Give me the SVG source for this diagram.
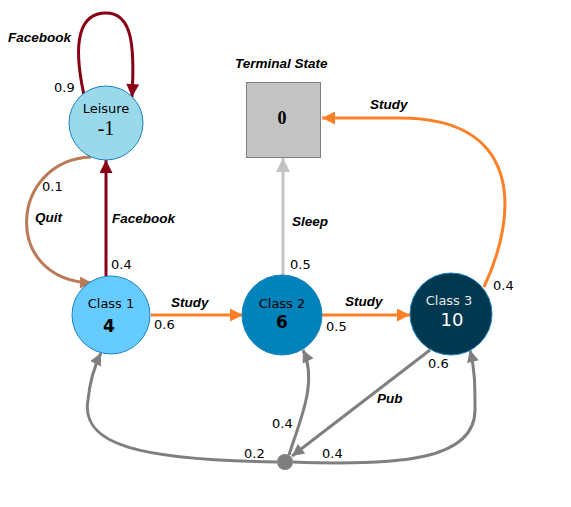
<svg xmlns="http://www.w3.org/2000/svg" width="571" height="507" viewBox="0 0 571 507">
<style>
.lbl{font-family:"Liberation Sans",Arial,sans-serif;font-size:13.5px;font-weight:bold;font-style:italic;fill:#000}
.p{font-family:"DejaVu Sans",Verdana,sans-serif;font-size:13px;fill:#000}
.nm{font-family:"DejaVu Sans",Verdana,sans-serif;font-size:13px;text-anchor:middle}
.val{font-family:"DejaVu Sans",Verdana,sans-serif;font-size:17px;font-weight:bold;text-anchor:middle}
.big{font-family:"DejaVu Sans",Verdana,sans-serif;font-size:18px;text-anchor:middle}
.ser{font-family:"Liberation Serif","Times New Roman",serif;text-anchor:middle}
.st{stroke:#1A81C1;stroke-width:1}
.e{fill:none;stroke-width:3}
</style>
<defs>
<marker id="aR" viewBox="0 0 12 12" refX="12" refY="6" markerWidth="14" markerHeight="13" markerUnits="userSpaceOnUse" orient="auto"><path d="M0,0 L12,6 L0,12 z" fill="#880015"/></marker>
<marker id="aO" viewBox="0 0 12 12" refX="12" refY="6" markerWidth="14" markerHeight="13" markerUnits="userSpaceOnUse" orient="auto"><path d="M0,0 L12,6 L0,12 z" fill="#FF7F27"/></marker>
<marker id="aB" viewBox="0 0 12 12" refX="12" refY="6" markerWidth="13" markerHeight="12" markerUnits="userSpaceOnUse" orient="auto"><path d="M0,0 L12,6 L0,12 z" fill="#B97A57"/></marker>
<marker id="aL" viewBox="0 0 12 12" refX="12" refY="6" markerWidth="14" markerHeight="15" markerUnits="userSpaceOnUse" orient="auto"><path d="M0,0 L12,6 L0,12 z" fill="#C3C3C3"/></marker>
<marker id="aG" viewBox="0 0 12 12" refX="12" refY="6" markerWidth="13" markerHeight="12" markerUnits="userSpaceOnUse" orient="auto"><path d="M0,0 L12,6 L0,12 z" fill="#7F7F7F"/></marker>
</defs>
<rect width="571" height="507" fill="#fff"/>
<g id="connectors">
<path class="e" stroke="#880015" d="M84 95 C72 40 80 13 106 13 C132 13 135 45 132 97" marker-end="url(#aR)"/>
<path class="e" stroke="#880015" d="M106 276 L106 160" marker-end="url(#aR)"/>
<path class="e" stroke="#B97A57" d="M91 157 C10 160 0 280 92 283" marker-end="url(#aB)"/>
<path class="e" stroke="#FF7F27" d="M151 315 L243 315" marker-end="url(#aO)"/>
<path class="e" stroke="#FF7F27" d="M322 315 L410 315" marker-end="url(#aO)"/>
<path class="e" stroke="#C3C3C3" d="M283 275 L283 158" marker-end="url(#aL)"/>
<path class="e" stroke="#FF7F27" d="M484 287 C520 210 520 118 400 118 L322 118" marker-end="url(#aO)"/>
<path class="e" stroke="#7F7F7F" d="M430 350 L292 456" marker-end="url(#aG)"/>
<path class="e" stroke="#7F7F7F" d="M277 462 C140 460 80 445 88 400 C90 380 95 365 101 353" marker-end="url(#aG)"/>
<path class="e" stroke="#7F7F7F" d="M289 455 C300 420 318 382 303 350" marker-end="url(#aG)"/>
<path class="e" stroke="#7F7F7F" d="M293 462 C400 466 475 460 475 410 C475 385 475 370 470 350" marker-end="url(#aG)"/>
<text class="lbl" x="8" y="42">Facebook</text>
<text class="p" x="54" y="92">0.9</text>
<text class="p" x="42" y="191">0.1</text>
<text class="lbl" x="35" y="222">Quit</text>
<text class="lbl" x="112" y="223">Facebook</text>
<text class="p" x="111" y="269">0.4</text>
<text class="lbl" x="171" y="307">Study</text>
<text class="p" x="154" y="329">0.6</text>
<text class="lbl" x="292" y="226">Sleep</text>
<text class="p" x="290" y="269">0.5</text>
<text class="lbl" x="345" y="306">Study</text>
<text class="p" x="326" y="331">0.5</text>
<text class="lbl" x="370" y="109">Study</text>
<text class="p" x="493" y="290">0.4</text>
<text class="p" x="428" y="368">0.6</text>
<text class="lbl" x="377" y="403">Pub</text>
<text class="p" x="272" y="428">0.4</text>
<text class="p" x="244" y="458">0.2</text>
<text class="p" x="322" y="458">0.4</text>
</g>
<g id="leisure">
<circle class="st" cx="106" cy="123" r="37" fill="#99D9EA"/>
<text class="nm" x="106" y="113">Leisure</text>
<text class="ser" x="106" y="135" font-size="20">-1</text>
</g>
<g id="terminal">
<text class="lbl" x="235" y="68">Terminal State</text>
<rect x="246.5" y="82.5" width="74" height="75" fill="#C3C3C3" stroke="#7F7F7F" stroke-width="1"/>
<text class="ser" x="282" y="124" font-size="18" font-weight="bold">0</text>
</g>
<g id="class1">
<circle class="st" cx="111" cy="315" r="39" fill="#66CCFF"/>
<text class="nm" x="111" y="308">Class 1</text>
<text class="val" x="109" y="332">4</text>
</g>
<g id="class2">
<circle class="st" cx="282" cy="315" r="40" fill="#0082BA"/>
<text class="nm" x="282" y="308">Class 2</text>
<text class="val" x="282" y="328">6</text>
</g>
<g id="class3">
<circle class="st" cx="451" cy="314" r="41" fill="#00384F"/>
<text class="nm" x="449" y="305" fill="#E6E6E6">Class 3</text>
<text class="big" x="452" y="326" fill="#fff">10</text>
</g>
<g id="pubnode">
<circle cx="285" cy="462" r="8" fill="#7F7F7F"/>
</g>
</svg>
